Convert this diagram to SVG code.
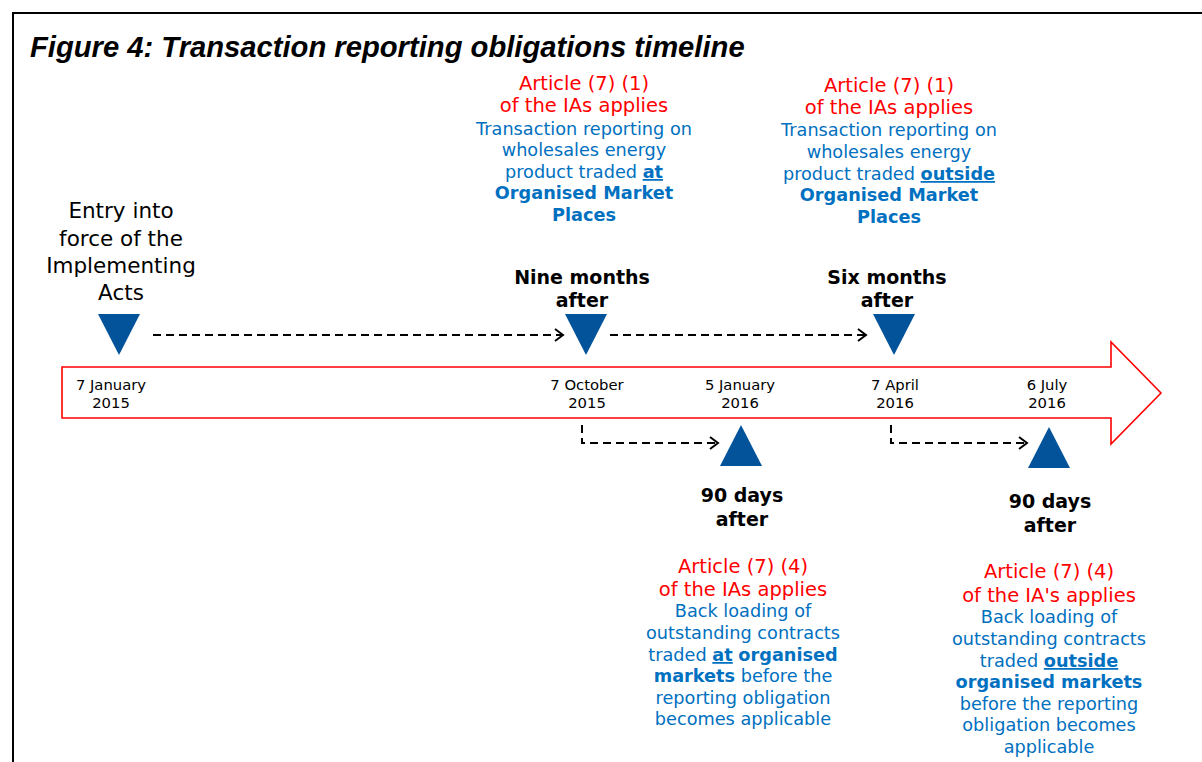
<svg xmlns="http://www.w3.org/2000/svg" width="1202" height="762" viewBox="0 0 1202 762">
<defs>
<style>
.t{font-family:"DejaVu Sans","Verdana",sans-serif;text-anchor:middle}
.date{font-size:14.8px;fill:#000}
.blk{font-size:21.5px;fill:#000}
.bold{font-size:19px;font-weight:bold;fill:#000}
.red{font-size:19.5px;fill:#FF0000}
.blue{font-size:17.7px;fill:#0070C0}
.b{font-weight:bold}
.u{font-weight:bold;text-decoration:underline}
.tri{fill:#02539A}
.dash{fill:none;stroke:#000;stroke-width:2;stroke-dasharray:8 5}
.head{fill:none;stroke:#000;stroke-width:2}
</style>
</defs>
<rect width="1202" height="762" fill="#fff"/>
<path d="M13 762 V13 H1202" fill="none" stroke="#000" stroke-width="2"/>
<text x="30" y="57" font-family="'Liberation Sans',Arial,sans-serif" font-size="29.2" font-weight="bold" font-style="italic" fill="#000">Figure 4: Transaction reporting obligations timeline</text>

<g id="timeline-arrow">
<path d="M62 367 H1111 V342 L1161 393 L1111 444 V418 H62 Z" fill="#fff" stroke="#FF0000" stroke-width="1.6"/>
<text class="t date"><tspan x="111" y="390">7 January</tspan><tspan x="111" y="407.5">2015</tspan></text>
<text class="t date"><tspan x="587" y="390">7 October</tspan><tspan x="587" y="407.5">2015</tspan></text>
<text class="t date"><tspan x="740" y="390">5 January</tspan><tspan x="740" y="407.5">2016</tspan></text>
<text class="t date"><tspan x="895" y="390">7 April</tspan><tspan x="895" y="407.5">2016</tspan></text>
<text class="t date"><tspan x="1047" y="390">6 July</tspan><tspan x="1047" y="407.5">2016</tspan></text>
</g>

<g id="connectors">
<path class="dash" d="M153 335 H562"/>
<path class="head" d="M555 329 L563 335 L555 341"/>
<path class="dash" d="M610 335 H865"/>
<path class="head" d="M858 329 L866 335 L858 341"/>
<path class="dash" d="M582 425 V443 H717"/>
<path class="head" d="M710 437 L718 443 L710 449"/>
<path class="dash" d="M891 425 V443 H1026"/>
<path class="head" d="M1019 437 L1027 443 L1019 449"/>
</g>

<g id="entry-into-force">
<polygon class="tri" points="98,314 140,314 119,355"/>
<text class="t blk"><tspan x="121" y="218">Entry into</tspan><tspan x="121" y="246">force of the</tspan><tspan x="121" y="273">Implementing</tspan><tspan x="121" y="300">Acts</tspan></text>
</g>

<g id="nine-months">
<polygon class="tri" points="565,314 607,314 586,355"/>
<text class="t bold"><tspan x="582" y="284">Nine months</tspan><tspan x="582" y="307">after</tspan></text>
<text class="t red"><tspan x="584" y="90">Article (7) (1)</tspan><tspan x="584" y="112">of the IAs applies</tspan></text>
<text class="t blue"><tspan x="584" y="135">Transaction reporting on</tspan><tspan x="584" y="156">wholesales energy</tspan><tspan x="584" y="178">product traded <tspan class="u">at</tspan></tspan><tspan x="584" y="199" class="b">Organised Market</tspan><tspan x="584" y="221" class="b">Places</tspan></text>
</g>

<g id="six-months">
<polygon class="tri" points="873,314 915,314 894,355"/>
<text class="t bold"><tspan x="887" y="284">Six months</tspan><tspan x="887" y="307">after</tspan></text>
<text class="t red"><tspan x="889" y="92">Article (7) (1)</tspan><tspan x="889" y="114">of the IAs applies</tspan></text>
<text class="t blue"><tspan x="889" y="136">Transaction reporting on</tspan><tspan x="889" y="158">wholesales energy</tspan><tspan x="889" y="180">product traded <tspan class="u">outside</tspan></tspan><tspan x="889" y="201" class="b">Organised Market</tspan><tspan x="889" y="223" class="b">Places</tspan></text>
</g>

<g id="ninety-days-1">
<polygon class="tri" points="741,425 762,466 720,466"/>
<text class="t bold"><tspan x="742" y="502">90 days</tspan><tspan x="742" y="526">after</tspan></text>
<text class="t red"><tspan x="743" y="573">Article (7) (4)</tspan><tspan x="743" y="596">of the IAs applies</tspan></text>
<text class="t blue"><tspan x="743" y="617">Back loading of</tspan><tspan x="743" y="639">outstanding contracts</tspan><tspan x="743" y="661">traded <tspan class="u">at</tspan> <tspan class="b">organised</tspan></tspan><tspan x="743" y="682"><tspan class="b">markets</tspan> before the</tspan><tspan x="743" y="704">reporting obligation</tspan><tspan x="743" y="725">becomes applicable</tspan></text>
</g>

<g id="ninety-days-2">
<polygon class="tri" points="1049,427 1070,468 1028,468"/>
<text class="t bold"><tspan x="1050" y="508">90 days</tspan><tspan x="1050" y="532">after</tspan></text>
<text class="t red"><tspan x="1049" y="578">Article (7) (4)</tspan><tspan x="1049" y="602">of the IA's applies</tspan></text>
<text class="t blue"><tspan x="1049" y="623">Back loading of</tspan><tspan x="1049" y="645">outstanding contracts</tspan><tspan x="1049" y="667">traded <tspan class="u">outside</tspan></tspan><tspan x="1049" y="688" class="b">organised markets</tspan><tspan x="1049" y="710">before the reporting</tspan><tspan x="1049" y="731">obligation becomes</tspan><tspan x="1049" y="753">applicable</tspan></text>
</g>
</svg>
